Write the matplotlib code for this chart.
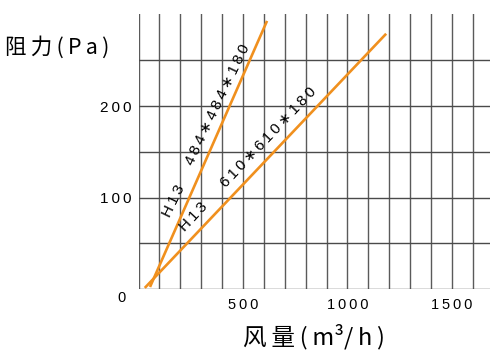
import matplotlib
matplotlib.use('Agg')
import matplotlib.pyplot as plt

# air flow (m3/h) vs. resistance (Pa)
flow_484 = [55, 615]
pa_484 = [2.5, 293]
flow_610 = [30, 1185]
pa_610 = [1.5, 279]

x_ticks = [500, 1000, 1500]
y_ticks = [100, 200]
x_grid = list(range(0, 1700, 100))
y_grid = [0, 50, 100, 150, 200, 250]

orange = '#f0901e'
thin = '\u2009'
num_font = ['Liberation Sans', 'DejaVu Sans']
cjk_font = ['Noto Sans CJK SC', 'DejaVu Sans']


def spaced(s, gap=thin):
    return gap.join(s)


fig = plt.figure(figsize=(5, 3.58), dpi=100)
ax = fig.add_axes([0.277, 0.1919, 0.7022, 0.7676])
ax.set_xlim(0, 1680)
ax.set_ylim(0, 300)

# grid
for gx in x_grid:
    ax.plot([gx, gx], [0, 300], color='#5a5a5a', lw=1.0, zorder=1)
for gy in y_grid:
    ax.plot([0, 1680], [gy, gy], color='#4a4a4a', lw=1.0, zorder=1)

ax.plot(flow_484, pa_484, color=orange, lw=1.9, zorder=3, solid_capstyle='butt')
ax.plot(flow_610, pa_610, color=orange, lw=1.9, zorder=3, solid_capstyle='butt')

for s in ax.spines.values():
    s.set_visible(False)
ax.tick_params(length=0)
ax.set_xticks(x_ticks)
ax.set_xticklabels([spaced(str(v)) for v in x_ticks], fontsize=10.5, family=num_font)
ax.set_yticks(y_ticks)
ax.set_yticklabels([spaced(str(v)) for v in y_ticks], fontsize=11, family=num_font)
ax.tick_params(axis='x', pad=6)
ax.tick_params(axis='y', pad=5)
ax.annotate('0', xy=(0, 0), xytext=(-12, -6.5), textcoords='offset points',
            ha='center', va='center', fontsize=10.5, family=num_font)

# curve labels
star = '\u2217'
lab_kw = dict(ha='center', va='center', fontsize=11, family=num_font,
              rotation_mode='anchor', zorder=4)
fig.text(174 / 500, 1 - 201 / 358, spaced('H13'), rotation=64, **lab_kw)
fig.text(218 / 500, 1 - 105 / 358, spaced('484' + star + '484' + star + '180'), rotation=64.5, **lab_kw)
fig.text(194 / 500, 1 - 217 / 358, spaced('H13'), rotation=47, **lab_kw)
fig.text(269 / 500, 1 - 137 / 358, spaced('610' + star + '610' + star + '180'), rotation=46.5, **lab_kw)

# axis titles
fig.text(5 / 500, 1 - 47 / 358, spaced('阻力(Pa)'), ha='left', va='center',
         fontsize=15.5, family=cjk_font)
xlab = '风' + thin + '量' + thin + '(' + thin + 'm³/' + thin + 'h' + thin + ')'
fig.text(314 / 500, 1 - 337 / 358, xlab, ha='center', va='center',
         fontsize=17, family=cjk_font)

fig.savefig('out.png', dpi=100)
